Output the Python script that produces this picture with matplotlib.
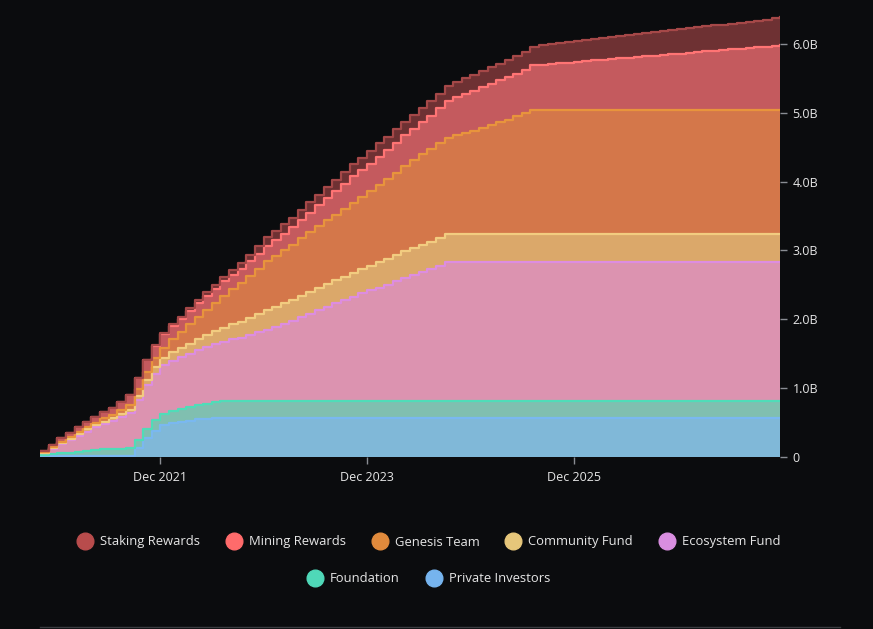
import matplotlib
matplotlib.use("Agg")
import matplotlib.pyplot as plt
import matplotlib.dates as mdates
from matplotlib.lines import Line2D
from matplotlib.ticker import FuncFormatter
import numpy as np
import pandas as pd

plt.rcParams['font.family'] = ['Open Sans', 'DejaVu Sans']

# monthly supply, Oct 2020 .. Dec 2027, billions (cumulative per bucket)
months = pd.date_range('2020-10-01', '2027-12-01', freq='MS')

private_investors = [
    0.01, 0.01, 0.015,
    0.015, 0.015, 0.02, 0.02, 0.02, 0.02, 0.02, 0.02, 0.13, 0.27, 0.38, 0.46,
    0.49, 0.51, 0.53, 0.545, 0.555, 0.565, 0.57, 0.57, 0.57, 0.57, 0.57, 0.57,
    0.57, 0.57, 0.57, 0.57, 0.57, 0.57, 0.57, 0.57, 0.57, 0.57, 0.57, 0.57,
    0.57, 0.57, 0.57, 0.57, 0.57, 0.57, 0.57, 0.57, 0.57, 0.57, 0.57, 0.57,
    0.57, 0.57, 0.57, 0.57, 0.57, 0.57, 0.57, 0.57, 0.57, 0.57, 0.57, 0.57,
    0.57, 0.57, 0.57, 0.57, 0.57, 0.57, 0.57, 0.57, 0.57, 0.57, 0.57, 0.57,
    0.57, 0.57, 0.57, 0.57, 0.57, 0.57, 0.57, 0.57, 0.57, 0.57, 0.57, 0.57,
]
foundation = [
    0.02, 0.03, 0.04,
    0.05, 0.06, 0.07, 0.08, 0.09, 0.10, 0.10, 0.11, 0.12, 0.14, 0.16, 0.17,
    0.18, 0.19, 0.20, 0.21, 0.22, 0.23, 0.24, 0.25, 0.25, 0.25, 0.25, 0.25,
    0.25, 0.25, 0.25, 0.25, 0.25, 0.25, 0.25, 0.25, 0.25, 0.25, 0.25, 0.25,
    0.25, 0.25, 0.25, 0.25, 0.25, 0.25, 0.25, 0.25, 0.25, 0.25, 0.25, 0.25,
    0.25, 0.25, 0.25, 0.25, 0.25, 0.25, 0.25, 0.25, 0.25, 0.25, 0.25, 0.25,
    0.25, 0.25, 0.25, 0.25, 0.25, 0.25, 0.25, 0.25, 0.25, 0.25, 0.25, 0.25,
    0.25, 0.25, 0.25, 0.25, 0.25, 0.25, 0.25, 0.25, 0.25, 0.25, 0.25, 0.25,
]
ecosystem_fund = [
    0.03, 0.08, 0.13,
    0.18, 0.23, 0.28, 0.33, 0.37, 0.41, 0.46, 0.51, 0.58, 0.63, 0.67, 0.70,
    0.73, 0.75, 0.77, 0.80, 0.82, 0.84, 0.86, 0.89, 0.91, 0.95, 0.99, 1.03,
    1.07, 1.11, 1.16, 1.21, 1.26, 1.31, 1.36, 1.41, 1.46, 1.51, 1.56, 1.60,
    1.64, 1.68, 1.73, 1.78, 1.82, 1.87, 1.91, 1.96, 2.01, 2.01, 2.01, 2.01,
    2.01, 2.01, 2.01, 2.01, 2.01, 2.01, 2.01, 2.01, 2.01, 2.01, 2.01, 2.01,
    2.01, 2.01, 2.01, 2.01, 2.01, 2.01, 2.01, 2.01, 2.01, 2.01, 2.01, 2.01,
    2.01, 2.01, 2.01, 2.01, 2.01, 2.01, 2.01, 2.01, 2.01, 2.01, 2.01, 2.01,
]
community_fund = [
    0.005, 0.008, 0.015,
    0.02, 0.025, 0.03, 0.03, 0.035, 0.035, 0.04, 0.04, 0.06, 0.08, 0.09, 0.11,
    0.12, 0.13, 0.145, 0.16, 0.17, 0.19, 0.21, 0.22, 0.235, 0.25, 0.265, 0.28,
    0.29, 0.30, 0.305, 0.31, 0.32, 0.325, 0.33, 0.335, 0.34, 0.345, 0.35, 0.36,
    0.37, 0.375, 0.38, 0.385, 0.39, 0.395, 0.40, 0.405, 0.41, 0.41, 0.41, 0.41,
    0.41, 0.41, 0.41, 0.41, 0.41, 0.41, 0.41, 0.41, 0.41, 0.41, 0.41, 0.41,
    0.41, 0.41, 0.41, 0.41, 0.41, 0.41, 0.41, 0.41, 0.41, 0.41, 0.41, 0.41,
    0.41, 0.41, 0.41, 0.41, 0.41, 0.41, 0.41, 0.41, 0.41, 0.41, 0.41, 0.41,
]
genesis_team = [
    0.005, 0.01, 0.02,
    0.025, 0.03, 0.035, 0.04, 0.045, 0.05, 0.06, 0.08, 0.10, 0.12, 0.135, 0.15,
    0.19, 0.23, 0.28, 0.32, 0.37, 0.41, 0.46, 0.51, 0.56, 0.61, 0.66, 0.71,
    0.74, 0.77, 0.80, 0.84, 0.87, 0.90, 0.93, 0.95, 0.98, 1.02, 1.05, 1.08,
    1.12, 1.16, 1.20, 1.24, 1.28, 1.31, 1.34, 1.37, 1.40, 1.44, 1.47, 1.50,
    1.54, 1.58, 1.62, 1.66, 1.71, 1.75, 1.80, 1.80, 1.80, 1.80, 1.80, 1.80,
    1.80, 1.80, 1.80, 1.80, 1.80, 1.80, 1.80, 1.80, 1.80, 1.80, 1.80, 1.80,
    1.80, 1.80, 1.80, 1.80, 1.80, 1.80, 1.80, 1.80, 1.80, 1.80, 1.80, 1.80,
]
mining_rewards = [
    0.02, 0.03, 0.05,
    0.06, 0.07, 0.08, 0.08, 0.09, 0.10, 0.12, 0.14, 0.16, 0.17, 0.18, 0.19,
    0.19, 0.20, 0.20, 0.20, 0.21, 0.21, 0.21, 0.21, 0.21, 0.22, 0.22, 0.22,
    0.23, 0.24, 0.25, 0.265, 0.28, 0.30, 0.32, 0.345, 0.37, 0.38, 0.39, 0.40,
    0.41, 0.42, 0.43, 0.445, 0.455, 0.47, 0.49, 0.51, 0.53, 0.55, 0.565, 0.575,
    0.59, 0.60, 0.61, 0.615, 0.62, 0.63, 0.65, 0.66, 0.67, 0.68, 0.69, 0.70,
    0.71, 0.72, 0.73, 0.74, 0.75, 0.76, 0.77, 0.78, 0.79, 0.80, 0.81, 0.82,
    0.83, 0.84, 0.85, 0.86, 0.87, 0.88, 0.89, 0.90, 0.91, 0.92, 0.935, 0.95,
]
staking_rewards = [
    0.0, 0.0, 0.0,
    0.0, 0.0, 0.0, 0.0, 0.0, 0.0, 0.0, 0.0, 0.0, 0.0, 0.01, 0.02,
    0.025, 0.03, 0.035, 0.04, 0.045, 0.05, 0.06, 0.07, 0.08, 0.09, 0.11, 0.13,
    0.135, 0.14, 0.14, 0.145, 0.15, 0.155, 0.16, 0.165, 0.17, 0.175, 0.18, 0.19,
    0.20, 0.20, 0.20, 0.20, 0.20, 0.20, 0.205, 0.21, 0.215, 0.22, 0.225, 0.23,
    0.235, 0.24, 0.245, 0.25, 0.255, 0.26, 0.27, 0.28, 0.285, 0.29, 0.30, 0.304,
    0.308, 0.312, 0.316, 0.32, 0.324, 0.328, 0.332, 0.336, 0.34, 0.344, 0.348, 0.352,
    0.356, 0.36, 0.364, 0.368, 0.372, 0.376, 0.38, 0.384, 0.388, 0.392, 0.396, 0.40,
]

# bottom -> top
names = ['Private Investors', 'Foundation', 'Ecosystem Fund', 'Community Fund',
         'Genesis Team', 'Mining Rewards', 'Staking Rewards']
series = [private_investors, foundation, ecosystem_fund, community_fund,
          genesis_team, mining_rewards, staking_rewards]
fills = ['#80b8d8', '#80bfb0', '#dc93b0', '#dba86a', '#d4774a', '#c45a5e', '#6e3133']
lines = ['#7ab8f0', '#50dcb8', '#dd8de0', '#f2cc80', '#e8943c', '#ff7474', '#a54848']
dots = ['#76b4ee', '#4fd8b8', '#d98ee0', '#e6c67a', '#e08a3c', '#ff6b6b', '#b84c4c']

bg = '#0b0c0e'
fig = plt.figure(figsize=(8.73, 6.29), dpi=100, facecolor=bg)
ax = fig.add_axes([40/873, 1-457/629, 740/873, 442/629], facecolor=bg)

base = np.zeros(len(months))
for vals, fc in zip(series, fills):
    top = base + np.array(vals)
    ax.fill_between(months, base, top, step='post', color=fc, lw=0)
    base = top
# outlines on top of the fills
base = np.zeros(len(months))
for vals, lc in zip(series, lines):
    base = base + np.array(vals)
    ax.step(months, base, where='post', color=lc, lw=1.6)

ax.set_xlim(months[0], months[-1])
ax.set_ylim(0, 6.42)

ax.yaxis.tick_right()
ax.set_yticks([0, 1, 2, 3, 4, 5, 6])
ax.yaxis.set_major_formatter(FuncFormatter(lambda v, p: '0' if v == 0 else f'{v:.1f}B'))
ax.set_xticks([pd.Timestamp('2021-12-01'), pd.Timestamp('2023-12-01'), pd.Timestamp('2025-12-01')])
ax.xaxis.set_major_formatter(mdates.DateFormatter('%b %Y'))
ax.tick_params(colors='#8a8d93', labelcolor='#e6e6e6', labelsize=9, length=5, width=1)
ax.tick_params(axis='y', pad=4)
ax.tick_params(axis='x', pad=5)
for s in ax.spines.values():
    s.set_visible(False)

# legend, two centred rows
def handles(idx):
    return [Line2D([], [], ls='', marker='o', ms=12, mfc=dots[i], mec=dots[i]) for i in idx]

row1 = [6, 5, 4, 3, 2]
row2 = [1, 0]
leg1 = fig.legend(handles(row1), [names[i] for i in row1], loc='center', ncol=5,
                  bbox_to_anchor=(426/873, 1-542/629), frameon=False, fontsize=9.4,
                  labelcolor='#e6e6e6', handletextpad=0.15, columnspacing=1.6)
leg2 = fig.legend(handles(row2), [names[i] for i in row2], loc='center', ncol=2,
                  bbox_to_anchor=(426/873, 1-579/629), frameon=False, fontsize=9.4,
                  labelcolor='#e6e6e6', handletextpad=0.15, columnspacing=1.6)

fig.add_artist(Line2D([40/873, 840/873], [1-627/629, 1-627/629], color='#3a3c40', lw=1))

fig.savefig('out.png', dpi=100, facecolor=bg)
